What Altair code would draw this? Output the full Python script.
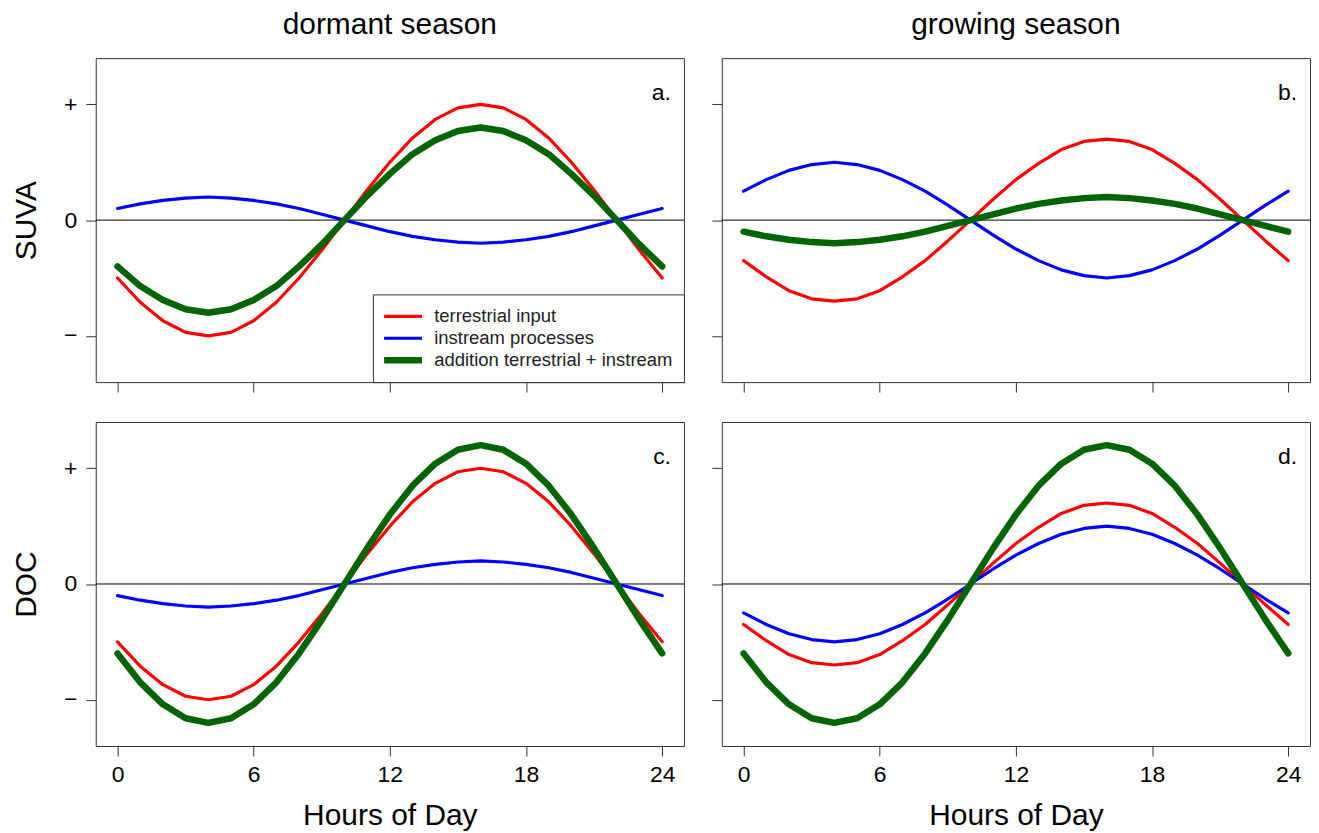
import altair as alt
import pandas as pd

hours = list(range(25))
series_names = ["terrestrial input", "instream processes", "addition terrestrial + instream"]
series_colors = ["#FF0000", "#0000FF", "#006400"]
series_widths = [3.2, 3.2, 6.5]

# panel a: SUVA, dormant season
a_terr = [-0.50, -0.71, -0.87, -0.97, -1.00, -0.97, -0.87, -0.71, -0.50, -0.26, 0.00, 0.26, 0.50,
          0.71, 0.87, 0.97, 1.00, 0.97, 0.87, 0.71, 0.50, 0.26, 0.00, -0.26, -0.50]
a_inst = [0.10, 0.14, 0.17, 0.19, 0.20, 0.19, 0.17, 0.14, 0.10, 0.05, 0.00, -0.05, -0.10,
          -0.14, -0.17, -0.19, -0.20, -0.19, -0.17, -0.14, -0.10, -0.05, 0.00, 0.05, 0.10]
a_sum = [-0.40, -0.57, -0.69, -0.77, -0.80, -0.77, -0.69, -0.57, -0.40, -0.21, 0.00, 0.21, 0.40,
         0.57, 0.69, 0.77, 0.80, 0.77, 0.69, 0.57, 0.40, 0.21, 0.00, -0.21, -0.40]

# panel b: SUVA, growing season
b_terr = [-0.35, -0.49, -0.61, -0.68, -0.70, -0.68, -0.61, -0.49, -0.35, -0.18, 0.00, 0.18, 0.35,
          0.49, 0.61, 0.68, 0.70, 0.68, 0.61, 0.49, 0.35, 0.18, 0.00, -0.18, -0.35]
b_inst = [0.25, 0.35, 0.43, 0.48, 0.50, 0.48, 0.43, 0.35, 0.25, 0.13, 0.00, -0.13, -0.25,
          -0.35, -0.43, -0.48, -0.50, -0.48, -0.43, -0.35, -0.25, -0.13, 0.00, 0.13, 0.25]
b_sum = [-0.10, -0.14, -0.17, -0.19, -0.20, -0.19, -0.17, -0.14, -0.10, -0.05, 0.00, 0.05, 0.10,
         0.14, 0.17, 0.19, 0.20, 0.19, 0.17, 0.14, 0.10, 0.05, 0.00, -0.05, -0.10]

# panel c: DOC, dormant season
c_terr = [-0.50, -0.71, -0.87, -0.97, -1.00, -0.97, -0.87, -0.71, -0.50, -0.26, 0.00, 0.26, 0.50,
          0.71, 0.87, 0.97, 1.00, 0.97, 0.87, 0.71, 0.50, 0.26, 0.00, -0.26, -0.50]
c_inst = [-0.10, -0.14, -0.17, -0.19, -0.20, -0.19, -0.17, -0.14, -0.10, -0.05, 0.00, 0.05, 0.10,
          0.14, 0.17, 0.19, 0.20, 0.19, 0.17, 0.14, 0.10, 0.05, 0.00, -0.05, -0.10]
c_sum = [-0.60, -0.85, -1.04, -1.16, -1.20, -1.16, -1.04, -0.85, -0.60, -0.31, 0.00, 0.31, 0.60,
         0.85, 1.04, 1.16, 1.20, 1.16, 1.04, 0.85, 0.60, 0.31, 0.00, -0.31, -0.60]

# panel d: DOC, growing season
d_terr = [-0.35, -0.49, -0.61, -0.68, -0.70, -0.68, -0.61, -0.49, -0.35, -0.18, 0.00, 0.18, 0.35,
          0.49, 0.61, 0.68, 0.70, 0.68, 0.61, 0.49, 0.35, 0.18, 0.00, -0.18, -0.35]
d_inst = [-0.25, -0.35, -0.43, -0.48, -0.50, -0.48, -0.43, -0.35, -0.25, -0.13, 0.00, 0.13, 0.25,
          0.35, 0.43, 0.48, 0.50, 0.48, 0.43, 0.35, 0.25, 0.13, 0.00, -0.13, -0.25]
d_sum = [-0.60, -0.85, -1.04, -1.16, -1.20, -1.16, -1.04, -0.85, -0.60, -0.31, 0.00, 0.31, 0.60,
         0.85, 1.04, 1.16, 1.20, 1.16, 1.04, 0.85, 0.60, 0.31, 0.00, -0.31, -0.60]

x_ticks = [0, 6, 12, 18, 24]
y_ticks = [-1, 0, 1]
FONT = "Liberation Sans"
W, H = 590, 325


def panel_frame(terr, inst, total):
    rows = []
    for name, lw, vals in zip(series_names, series_widths, [terr, inst, total]):
        for h, v in zip(hours, vals):
            rows.append({"hour": h, "value": v, "series": name, "lw": lw})
    return pd.DataFrame(rows)


def make_panel(terr, inst, total, letter, x_labels, y_labels, y_title, col_title, legend):
    df = panel_frame(terr, inst, total)
    x_axis = alt.Axis(values=x_ticks, labels=x_labels, title="Hours of Day" if x_labels else None,
                      labelFontSize=23, labelPadding=8, titleFontSize=30, titleFontWeight="normal",
                      titlePadding=14, tickSize=10, tickColor="#333", domain=False, grid=False,
                      labelFont=FONT, titleFont=FONT, labelColor="black", titleColor="black")
    y_axis = alt.Axis(values=y_ticks, labels=y_labels, title=y_title,
                      labelExpr="datum.value > 0 ? '+' : (datum.value < 0 ? '\u2212' : '0')",
                      labelFontSize=23, labelPadding=9, titleFontSize=30, titleFontWeight="normal",
                      titlePadding=22, tickSize=10, tickColor="#333", domain=False, grid=False,
                      labelFont=FONT, titleFont=FONT, labelColor="black", titleColor="black")
    xs = alt.Scale(domain=[-0.96, 24.96], nice=False, zero=False)
    ys = alt.Scale(domain=[-1.4, 1.4], nice=False, zero=False)

    if legend:
        leg = alt.Legend(title=None, orient="bottom-right", offset=0, strokeColor="#333",
                         fillColor="white", padding=11, labelFontSize=18.5, labelFont=FONT,
                         labelColor="#222", symbolType="stroke", symbolSize=1444, labelLimit=0,
                         clipHeight=22, rowPadding=0, labelOffset=22, symbolOffset=10,
                         symbolStrokeWidth={"expr": "datum.value == 'addition terrestrial + instream' ? 6.5 : 3.2"})
    else:
        leg = None

    zero = alt.Chart(pd.DataFrame({"y": [0]})).mark_rule(color="black", strokeWidth=1).encode(
        y=alt.Y("y:Q", scale=ys, axis=y_axis)
    )
    lines = alt.Chart(df).mark_line(strokeCap="round", strokeJoin="round").encode(
        x=alt.X("hour:Q", scale=xs, axis=x_axis),
        y=alt.Y("value:Q", scale=ys, axis=y_axis),
        color=alt.Color("series:N", scale=alt.Scale(domain=series_names, range=series_colors),
                        sort=series_names, legend=leg),
        strokeWidth=alt.StrokeWidth("lw:Q", scale=None, legend=None),
        order=alt.Order("hour:Q"),
    )
    lab = alt.Chart(pd.DataFrame({"label": [letter]})).mark_text(
        align="right", baseline="middle", fontSize=23, font=FONT, color="black"
    ).encode(text="label:N", x=alt.value(W - 13), y=alt.value(35))

    props = dict(width=W, height=H)
    if col_title:
        props["title"] = alt.TitleParams(col_title, fontSize=30, fontWeight="normal", font=FONT,
                                         color="black", anchor="middle", offset=18)
    return alt.layer(zero, lines, lab).properties(**props).resolve_scale(color="independent")


pa = make_panel(a_terr, a_inst, a_sum, "a.", False, True, "SUVA", "dormant season", True)
pb = make_panel(b_terr, b_inst, b_sum, "b.", False, False, None, "growing season", False)
pc = make_panel(c_terr, c_inst, c_sum, "c.", True, True, "DOC", None, False)
pd_ = make_panel(d_terr, d_inst, d_sum, "d.", True, False, None, None, False)

chart = alt.concat(pa, pb, pc, pd_, columns=2, spacing={"row": 40, "column": 38},
                   bounds="flush").resolve_scale(
    color="independent"
).properties(
    padding={"left": 3, "top": 0, "right": 0, "bottom": 0},
).configure(
    background="white",
    view=alt.ViewConfig(stroke="#333", strokeWidth=1),
)

chart.save("out.html", embed_options={"renderer": "svg", "actions": False})
